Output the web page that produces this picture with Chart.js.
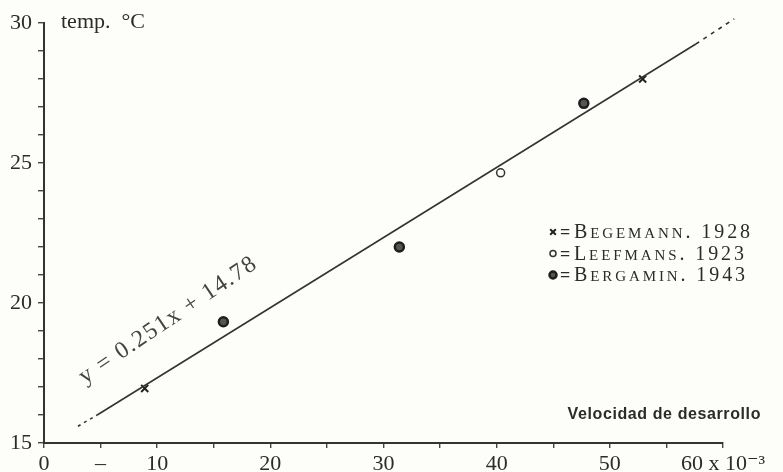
<!DOCTYPE html>
<html>
<head>
<meta charset="utf-8">
<script src="https://cdn.jsdelivr.net/npm/chart.js@4.4.1/dist/chart.umd.min.js"></script>
<style>
    html, body { margin: 0; padding: 0; background: #fdfdfa; }
    canvas { display: block; }
</style>
</head>
<body>
<canvas id="tempChart" width="783" height="472"></canvas>
<script>
// values
const seriesNames = ['Begemann. 1928', 'Leefmans. 1923', 'Bergamin. 1943'];
const begemannX = [8.9, 52.9];
const begemannY = [16.95, 28.0];
const leefmansX = [40.35];
const leefmansY = [24.65];
const bergaminX = [15.85, 31.4, 47.7];
const bergaminY = [19.33, 22.0, 27.13];

// regression line y = 0.251x + 14.78, end points as drawn
const fitSolidX = [4.7, 57.6];
const fitSolidY = [16.0, 29.25];
const fitLowX = [3.0, 4.7];
const fitLowY = [15.6, 16.0];
const fitHighX = [57.6, 61.0];
const fitHighY = [29.25, 30.15];

const equationText = 'y = 0.251x + 14.78';
const yTitle = 'temp.  °C';
const xTitle = 'Velocidad de desarrollo';
const xLabelsShown = { 0: '0', 5: '–', 10: '10', 20: '20', 30: '30', 40: '40', 50: '50', 60: '60 x 10⁻³' };
const yLabelsShown = [15, 20, 25, 30];

const ink = '#2b2b2b';
const serif = "'Liberation Serif', 'DejaVu Serif', serif";

const toPoints = (xs, ys) => xs.map((x, i) => ({ x: x, y: ys[i] }));

const markerStyles = [
    { pointStyle: 'crossRot', radius: 5, borderWidth: 2, borderColor: '#222', backgroundColor: '#222' },
    { pointStyle: 'circle', radius: 4, borderWidth: 1.5, borderColor: '#333', backgroundColor: '#fdfdfa' },
    { pointStyle: 'circle', radius: 4.5, borderWidth: 2.5, borderColor: '#1e1e1e', backgroundColor: '#555' }
];

function lineSet(xs, ys, dash) {
    return {
        type: 'line',
        data: toPoints(xs, ys),
        borderColor: '#333',
        borderWidth: 1.6,
        borderDash: dash,
        pointRadius: 0,
        clip: false,
        fill: false
    };
}

function pointSet(xs, ys, idx) {
    const m = markerStyles[idx];
    return {
        type: 'scatter',
        label: seriesNames[idx],
        data: toPoints(xs, ys),
        pointStyle: m.pointStyle,
        pointRadius: m.radius,
        pointBorderWidth: m.borderWidth,
        pointBorderColor: m.borderColor,
        pointBackgroundColor: m.backgroundColor,
        showLine: false
    };
}

// draw text with lower case letters as small capitals
function drawSmallCaps(ctx, text, x, y, big, small, spacing) {
    let cx = x;
    for (const ch of text) {
        const isLower = ch !== ch.toUpperCase();
        ctx.font = (isLower ? small : big) + 'px ' + serif;
        const c = isLower ? ch.toUpperCase() : ch;
        ctx.fillText(c, cx, y);
        cx += ctx.measureText(c).width + spacing;
    }
}

const annotations = {
    id: 'annotations',
    afterDatasetsDraw(chart) {
        const ctx = chart.ctx;
        const xs = chart.scales.x;
        const ys = chart.scales.y;
        ctx.save();
        ctx.fillStyle = ink;
        ctx.textBaseline = 'alphabetic';

        // y axis title next to the top tick
        ctx.font = '22px ' + serif;
        ctx.textAlign = 'left';
        ctx.fillText(yTitle, chart.chartArea.left + 17, chart.chartArea.top + 5);

        // x axis title
        ctx.font = "bold 16px 'Liberation Sans Narrow', 'Liberation Sans', sans-serif";
        ctx.letterSpacing = '0.6px';
        ctx.textAlign = 'right';
        ctx.fillText(xTitle, 761, chart.chartArea.bottom - 24);
        ctx.letterSpacing = '0px';

        // equation along the line
        ctx.save();
        ctx.translate(xs.getPixelForValue(11.3), ys.getPixelForValue(19.2));
        ctx.rotate(-34 * Math.PI / 180);
        ctx.textAlign = 'center';
        ctx.fillStyle = '#444';
        ctx.font = '24px ' + serif;
        ctx.letterSpacing = '1.5px';
        ctx.fillText(equationText, 0, 0);
        ctx.letterSpacing = '0px';
        ctx.restore();

        // legend
        const lx = 553;
        let ly = 232;
        ctx.textAlign = 'left';
        seriesNames.forEach((name, i) => {
            const m = markerStyles[i];
            ctx.strokeStyle = m.borderColor;
            ctx.fillStyle = m.backgroundColor;
            ctx.lineWidth = m.borderWidth;
            Chart.helpers.drawPoint(ctx, { pointStyle: m.pointStyle, radius: m.radius - 1, rotation: 0, borderWidth: m.borderWidth }, lx, ly);
            ctx.fillStyle = ink;
            ctx.font = 'bold 18px ' + serif;
            ctx.fillText('=', lx + 7, ly + 6);
            drawSmallCaps(ctx, name, lx + 21, ly + 6, 20, 15, 2.9);
            ly += 21.5;
        });
        ctx.restore();
    }
};

const ctx = document.getElementById('tempChart').getContext('2d');
new Chart(ctx, {
    data: {
        datasets: [
            lineSet(fitSolidX, fitSolidY, []),
            lineSet(fitLowX, fitLowY, [3, 4]),
            lineSet(fitHighX, fitHighY, [4, 5]),
            pointSet(begemannX, begemannY, 0),
            pointSet(leefmansX, leefmansY, 1),
            pointSet(bergaminX, bergaminY, 2)
        ]
    },
    options: {
        responsive: false,
        animation: false,
        layout: { padding: { top: 23, right: 60, left: 0, bottom: 0 } },
        plugins: {
            legend: { display: false },
            tooltip: { enabled: false }
        },
        scales: {
            x: {
                type: 'linear',
                min: 0,
                max: 60,
                afterFit: scale => { scale.height = 29; },
                border: { display: true, color: '#333', width: 2 },
                grid: { drawOnChartArea: false, drawTicks: true, tickLength: 5, color: '#444', lineWidth: 1.4 },
                ticks: {
                    stepSize: 5,
                    autoSkip: false,
                    maxRotation: 0,
                    padding: 3,
                    color: ink,
                    font: { family: serif, size: 22 },
                    callback: v => (xLabelsShown[v] !== undefined ? xLabelsShown[v] : '')
                }
            },
            y: {
                type: 'linear',
                min: 15,
                max: 30,
                afterFit: scale => { scale.width = 44; },
                border: { display: true, color: '#333', width: 2 },
                grid: { drawOnChartArea: false, drawTicks: true, tickLength: 6, color: '#444', lineWidth: 1.4 },
                ticks: {
                    stepSize: 1,
                    autoSkip: false,
                    padding: 6,
                    color: ink,
                    font: { family: serif, size: 22 },
                    callback: v => (yLabelsShown.includes(v) ? String(v) : '')
                }
            }
        }
    },
    plugins: [annotations]
});
</script>
</body>
</html>
